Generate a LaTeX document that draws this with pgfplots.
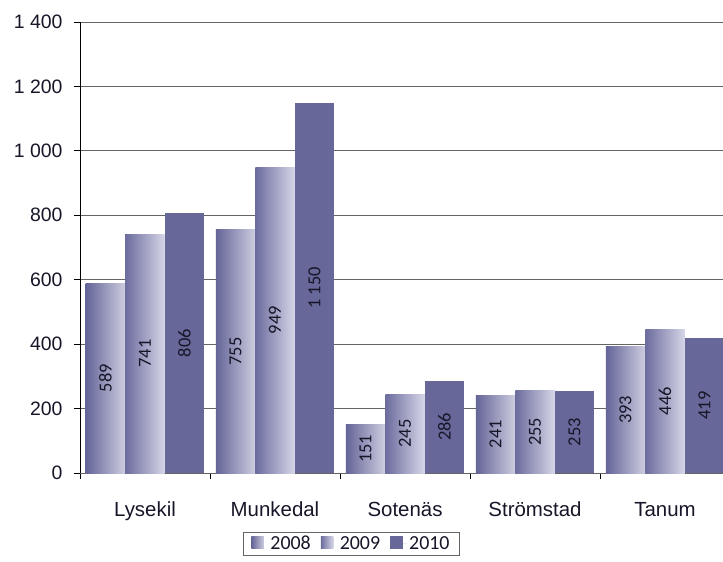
\documentclass[border=0pt]{standalone}
\usepackage{pgfplots}
\pgfplotsset{compat=1.18}
\usepackage{fontspec}
\setmainfont{Liberation Sans}
\newfontfamily\carlito{Carlito}
\definecolor{cA}{RGB}{100,100,152}
\definecolor{cAl}{RGB}{205,205,224}
\definecolor{cB}{RGB}{108,108,158}
\definecolor{cBl}{RGB}{214,214,232}
\definecolor{cC}{RGB}{103,103,153}
\definecolor{txt}{RGB}{22,22,40}
\definecolor{gridc}{RGB}{100,100,100}
\pgfplotsset{
  sqleg/.style={legend image code/.code={\path[##1,draw=none] (0bp,-5bp) rectangle (12.5bp,7.5bp);
     \path (0bp,0bp) -- (17bp,0bp);}},
  vlab/.style={every node near coord/.style={font=\carlito\fontsize{18.5}{18.5}\selectfont, text=txt,
     shift={(axis direction cs:0,-\rawy/2)}, xshift=#1, rotate=90, anchor=center}},
  sA/.style={ybar, bar width=39.5bp, bar shift=-39.5bp, left color=cA, right color=cAl, draw=none, sqleg, vlab=-39.5bp},
  sB/.style={ybar, bar width=39.5bp, bar shift=0bp, left color=cB, right color=cBl, draw=none, sqleg, vlab=0bp},
  sC/.style={ybar, bar width=39.5bp, bar shift=39.5bp, fill=cC, draw=none, sqleg, vlab=39.5bp},
}
\begin{document}
\begin{tikzpicture}
\useasboundingbox (-80bp,-89bp) rectangle (643bp,473bp);
\clip (-80bp,-89bp) rectangle (643bp,473bp);
\begin{axis}[
  at={(0,0)}, anchor=south west,
  scale only axis, width=650bp, height=451bp,
  xmin=-0.5, xmax=4.5, ymin=0, ymax=1400,
  separate axis lines,
  axis x line*=bottom, axis y line*=left,
  x axis line style={-, draw=gridc, line width=0.8bp},
  y axis line style={-, draw=black, line width=0.8bp},
  ymajorgrids, grid style={draw=gridc, line width=0.8bp},
  ytick={0,200,...,1400},
  yticklabels={0,200,400,600,800,1 000,1 200,1 400},
  xtick={0,1,2,3,4},
  xticklabels={Lysekil,Munkedal,Sotenäs,Strömstad,Tanum},
  minor xtick={-0.5,0.5,1.5,2.5,3.5,4.5},
  tick align=outside,
  major tick length=6bp, minor tick length=6bp,
  major x tick style={draw=none},
  minor x tick style={draw=black, line width=0.8bp},
  ytick style={draw=black, line width=0.8bp},
  yticklabel style={font=\fontsize{19.5}{20}\selectfont, text=txt, anchor=east, xshift=-8bp},
  xticklabel style={font=\fontsize{20.5}{21}\selectfont, text=txt, anchor=base, yshift=-37.5bp},
  nodes near coords={\pgfmathprintnumber[assume math mode=true,1000 sep={\ }]{\pgfplotspointmeta}},
  visualization depends on=rawy \as \rawy,
  legend columns=3,
  legend style={at={(0.2508,-0.1308)}, anchor=north west, draw=gridc, line width=0.8bp,
     inner xsep=8bp,
     font=\carlito\fontsize{20}{20}\selectfont, text=txt,
     /tikz/every even column/.append style={column sep=8bp}},
]
\addplot[sA] coordinates {(0,589)};
\addplot[sB] coordinates {(0,741)};
\addplot[sC] coordinates {(0,806)};
\legend{2008,2009,2010\hspace{14bp}}
\addplot[sA, forget plot] coordinates {(1,755)};
\addplot[sA, forget plot] coordinates {(2,151)};
\addplot[sA, forget plot] coordinates {(3,241)};
\addplot[sA, forget plot] coordinates {(4,393)};
\addplot[sB, forget plot] coordinates {(1,949)};
\addplot[sB, forget plot] coordinates {(2,245)};
\addplot[sB, forget plot] coordinates {(3,255)};
\addplot[sB, forget plot] coordinates {(4,446)};
\addplot[sC, forget plot] coordinates {(1,1150)};
\addplot[sC, forget plot] coordinates {(2,286)};
\addplot[sC, forget plot] coordinates {(3,253)};
\addplot[sC, forget plot] coordinates {(4,419)};
\end{axis}
\end{tikzpicture}
\end{document}
